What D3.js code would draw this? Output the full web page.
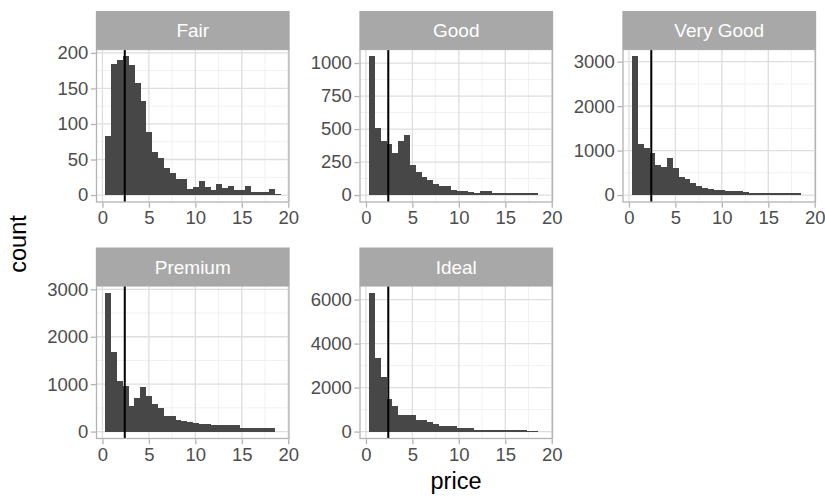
<!DOCTYPE html>
<html>
<head>
<meta charset="utf-8">
<script src="https://cdn.jsdelivr.net/npm/d3@7"></script>
<style>
  html, body { margin: 0; padding: 0; background: #ffffff; }
  svg { display: block; }
  text { font-family: "Liberation Sans", Arial, Helvetica, sans-serif; }
</style>
</head>
<body>
<div id="chart"></div>
<script>
// ---------------- data ----------------
const cuts = ["Fair", "Good", "Very Good", "Premium", "Ideal"];

// histogram bin edges (price, thousands) – 30 bins
const binEdges = [0.30, 0.928, 1.556, 2.184, 2.812, 3.44, 4.068, 4.696, 5.324, 5.952,
  6.58, 7.208, 7.836, 8.464, 9.092, 9.72, 10.348, 10.976, 11.604, 12.232,
  12.86, 13.488, 14.116, 14.744, 15.372, 16.0, 16.628, 17.256, 17.884, 18.512, 19.14];

const fairCounts = [83, 185, 190, 195, 183, 157, 132, 89, 60, 52, 38, 31, 22, 22, 9,
  12, 20, 12, 7, 15, 10, 13, 7, 7, 13, 4, 4, 4, 8, 1];
const goodCounts = [1050, 505, 412, 390, 318, 412, 456, 231, 178, 137, 117, 85, 70, 67, 42,
  32, 30, 25, 15, 30, 28, 15, 12, 12, 12, 12, 12, 12, 12, 3];
const veryGoodCounts = [3117, 1143, 1068, 955, 677, 639, 842, 601, 414, 353, 263, 203, 150, 128, 115,
  105, 88, 85, 85, 80, 42, 42, 42, 42, 42, 40, 40, 40, 40, 0];
const premiumCounts = [2924, 1670, 1075, 970, 530, 713, 930, 755, 580, 502, 320, 320, 240, 232, 205,
  185, 165, 165, 140, 130, 130, 130, 130, 82, 82, 82, 82, 82, 82, 0];
const idealCounts = [6302, 3340, 2465, 1460, 1140, 765, 765, 765, 540, 540, 440, 350, 245, 245, 245,
  180, 180, 180, 90, 90, 90, 90, 90, 90, 90, 90, 90, 30, 30, 0];

const countsByCut = [fairCounts, goodCounts, veryGoodCounts, premiumCounts, idealCounts];

const xTicks = [0, 5, 10, 15, 20];
const yTicksByCut = [
  [0, 50, 100, 150, 200],
  [0, 250, 500, 750, 1000],
  [0, 1000, 2000, 3000],
  [0, 1000, 2000, 3000],
  [0, 2000, 4000, 6000]
];
const medianPrice = 2.401;

// ---------------- layout ----------------
const W = 825, H = 498;
const colLeft = [96.5, 360, 623];
const panelW = 192.5;
const stripTop = [11, 247.5];
const stripH = 38.5;
const panelH = 152.5;
const tickLen = 5;
const tickFont = 18.5;
const stripFont = 19;
const titleFont = 23.5;

const svg = d3.select("#chart").append("svg")
  .attr("width", W).attr("height", H)
  .attr("viewBox", `0 0 ${W} ${H}`);

svg.append("rect").attr("width", W).attr("height", H).attr("fill", "#ffffff");

cuts.forEach((cut, i) => {
  const col = i % 3, row = Math.floor(i / 3);
  const left = colLeft[col];
  const sTop = stripTop[row];
  const top = sTop + stripH;
  const bottom = top + panelH;
  const counts = countsByCut[i];
  const yTicks = yTicksByCut[i];

  const x0 = binEdges[0], x1 = binEdges[binEdges.length - 1];
  const xr = x1 - x0;
  const x = d3.scaleLinear().domain([x0 - 0.05 * xr, x1 + 0.05 * xr]).range([left, left + panelW]);
  const ymax = d3.max(counts);
  const y = d3.scaleLinear().domain([-0.05 * ymax, 1.05 * ymax]).range([bottom, top]);

  const g = svg.append("g");

  g.append("rect").attr("x", left).attr("y", top).attr("width", panelW).attr("height", panelH)
    .attr("fill", "#ffffff");

  // minor grid
  const xMinor = xTicks.slice(0, -1).map((t, k) => (t + xTicks[k + 1]) / 2)
    .filter(v => v > x.domain()[0] && v < x.domain()[1]);
  const step = yTicks[1] - yTicks[0];
  const yMinor = yTicks.map(t => t + step / 2).concat([yTicks[0] - step / 2])
    .filter(v => v > y.domain()[0] && v < y.domain()[1]);

  g.selectAll(".xminor").data(xMinor).enter().append("line")
    .attr("x1", d => x(d)).attr("x2", d => x(d)).attr("y1", top).attr("y2", bottom)
    .attr("stroke", "#ededed").attr("stroke-width", 0.8);
  g.selectAll(".yminor").data(yMinor).enter().append("line")
    .attr("x1", left).attr("x2", left + panelW).attr("y1", d => y(d)).attr("y2", d => y(d))
    .attr("stroke", "#ededed").attr("stroke-width", 0.8);

  // major grid
  g.selectAll(".xmajor").data(xTicks.filter(v => v > x.domain()[0] && v < x.domain()[1])).enter().append("line")
    .attr("x1", d => x(d)).attr("x2", d => x(d)).attr("y1", top).attr("y2", bottom)
    .attr("stroke", "#dedede").attr("stroke-width", 1.3);
  g.selectAll(".ymajor").data(yTicks).enter().append("line")
    .attr("x1", left).attr("x2", left + panelW).attr("y1", d => y(d)).attr("y2", d => y(d))
    .attr("stroke", "#dedede").attr("stroke-width", 1.3);

  // bars
  const bins = counts.map((c, k) => ({ x0: binEdges[k], x1: binEdges[k + 1], c }));
  g.selectAll(".bar").data(bins).enter().append("rect")
    .attr("x", d => x(d.x0))
    .attr("width", d => x(d.x1) - x(d.x0) + 0.3)
    .attr("y", d => y(d.c))
    .attr("height", d => y(0) - y(d.c))
    .attr("fill", "#474747")
    .attr("shape-rendering", "crispEdges");

  // median line
  g.append("line")
    .attr("x1", x(medianPrice)).attr("x2", x(medianPrice))
    .attr("y1", top).attr("y2", bottom)
    .attr("stroke", "#000000").attr("stroke-width", 2);

  // panel border
  g.append("rect").attr("x", left).attr("y", top).attr("width", panelW).attr("height", panelH)
    .attr("fill", "none").attr("stroke", "#b3b3b3").attr("stroke-width", 1.3);

  // strip
  g.append("rect").attr("x", left - 0.65).attr("y", sTop).attr("width", panelW + 1.3).attr("height", stripH)
    .attr("fill", "#a8a8a8");
  g.append("text").attr("x", left + panelW / 2).attr("y", sTop + stripH / 2)
    .attr("dy", "0.36em").attr("text-anchor", "middle")
    .attr("fill", "#ffffff").attr("font-size", stripFont).text(cut);

  // y axis
  const yAxis = d3.axisLeft(y).tickValues(yTicks).tickSize(tickLen).tickPadding(2.5)
    .tickFormat(d3.format("d"));
  const ya = g.append("g").attr("transform", `translate(${left - 0.65},0)`).call(yAxis);
  ya.select(".domain").remove();
  ya.selectAll(".tick line").attr("stroke", "#b3b3b3").attr("stroke-width", 1.3);
  ya.selectAll(".tick text").attr("fill", "#4d4d4d").attr("font-size", tickFont)
    .attr("font-family", "'Liberation Sans', Arial, Helvetica, sans-serif");

  // x axis
  const xAxis = d3.axisBottom(x).tickValues(xTicks).tickSize(tickLen).tickPadding(3.5)
    .tickFormat(d3.format("d"));
  const xa = g.append("g").attr("transform", `translate(0,${bottom + 0.65})`).call(xAxis);
  xa.select(".domain").remove();
  xa.selectAll(".tick line").attr("stroke", "#b3b3b3").attr("stroke-width", 1.3);
  xa.selectAll(".tick text").attr("fill", "#4d4d4d").attr("font-size", tickFont)
    .attr("font-family", "'Liberation Sans', Arial, Helvetica, sans-serif");
});

// axis titles
svg.append("text")
  .attr("transform", `translate(26,244) rotate(-90)`)
  .attr("text-anchor", "middle").attr("fill", "#000000").attr("font-size", titleFont)
  .text("count");
svg.append("text")
  .attr("x", 456).attr("y", 489)
  .attr("text-anchor", "middle").attr("fill", "#000000").attr("font-size", titleFont)
  .text("price");
</script>
</body>
</html>
